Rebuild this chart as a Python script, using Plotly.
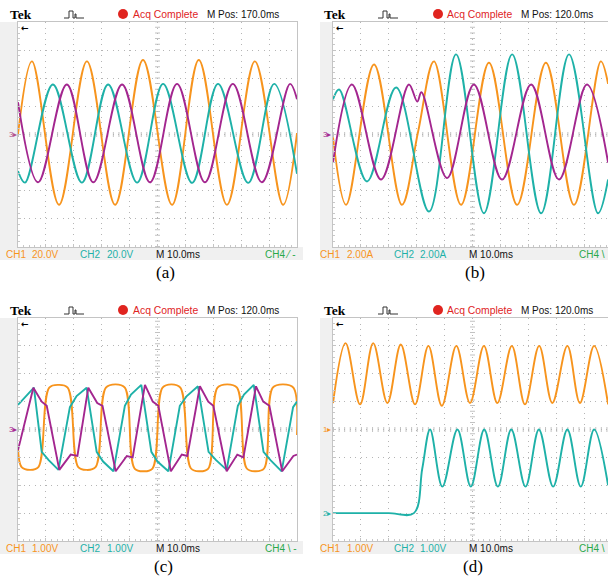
import plotly.graph_objects as go

# ---------------- data (time in divisions, 10 ms/div; amplitude in divisions) -------------
# Values read at the visible peaks / troughs / kinks of each trace.
# Panel (a)
A_T_OR = [0.0, 0.5, 1.47, 2.47, 3.48, 4.48, 5.52, 6.48, 7.49, 8.49, 9.5, 10.0]
A_V_OR = [0.0, 2.6, -2.5, 2.6, -2.5, 2.65, -2.5, 2.65, -2.5, 2.6, -2.5, 0.05]
A_T_CY = [0.0, 0.25, 1.25, 2.29, 3.23, 4.27, 5.2, 6.24, 7.17, 8.25, 9.18, 10.0]
A_V_CY = [-1.3, -1.71, 1.78, -1.71, 1.78, -1.71, 1.8, -1.72, 1.8, -1.72, 1.8, -1.4]
A_T_MG = [0.0, 0.72, 1.75, 2.7, 3.73, 4.73, 5.7, 6.7, 7.7, 8.74, 9.75, 10.0]
A_V_MG = [1.15, -1.7, 1.78, -1.7, 1.78, -1.7, 1.8, -1.7, 1.8, -1.7, 1.8, 1.25]

# Panel (b)
B_T_OR = [0.0, 0.47, 1.47, 2.47, 3.05, 3.62, 4.59, 5.59, 6.6, 7.63, 8.64, 9.6, 9.86]
B_V_OR = [-0.1, -2.5, 2.49, -2.5, 0.1, 2.6, -2.5, 2.55, -2.5, 2.55, -2.5, 2.6, 1.8]
B_T_CY = [0.0, 0.22, 1.22, 2.26, 3.44, 4.41, 5.41, 6.42, 7.46, 8.46, 9.5, 9.86]
B_V_CY = [1.25, 1.6, -1.67, 1.67, -2.74, 2.85, -2.8, 2.85, -2.8, 2.85, -2.8, -1.6]
B_T_MG = [0.0, 0.68, 1.72, 2.72, 3.02, 3.17, 4.09, 5.05, 6.06, 7.1, 8.1, 9.1, 9.86]
B_V_MG = [-1.0, 1.78, -1.6, 1.78, 1.17, 1.5, -1.55, 1.78, -1.6, 1.78, -1.6, 1.78, -1.0]

# Panel (c)
C_T_OR = [0.0, 0.13, 0.43, 0.73, 1.12, 1.45, 1.78, 2.16, 2.46, 2.78, 3.15, 3.5, 3.83, 4.18, 4.5, 4.82,
          5.18, 5.5, 5.82, 6.2, 6.5, 6.82, 7.15, 7.5, 7.85, 8.2, 8.5, 8.82, 9.13, 9.5, 9.87, 10.0]
C_V_OR = [-0.6, -1.35, -1.45, -1.35, 1.5, 1.6, 1.5, -1.35, -1.45, -1.35, 1.5, 1.62, 1.5, -1.4, -1.5, -1.4,
          1.5, 1.62, 1.5, -1.4, -1.5, -1.4, 1.5, 1.62, 1.5, -1.4, -1.5, -1.4, 1.5, 1.62, 1.5, -0.2]
C_T_CY = [0.0, 0.57, 0.85, 1.1, 1.45, 1.86, 2.1, 2.46, 2.82, 3.05, 3.42, 3.83, 4.05, 4.42, 4.78, 5.0,
          5.39, 5.8, 6.05, 6.45, 6.83, 7.1, 7.48, 7.88, 8.1, 8.45, 8.8, 9.05, 9.45, 9.86, 10.0]
C_V_CY = [0.88, 1.5, -0.8, -1.1, -1.45, 0.8, 1.2, 1.5, -0.8, -1.15, -1.5, 0.85, 1.25, 1.6, -0.8, -1.15,
          -1.5, 0.85, 1.2, 1.55, -0.8, -1.1, -1.45, 0.85, 1.25, 1.6, -0.8, -1.1, -1.5, 0.8, 1.0]
C_T_MG = [0.0, 0.55, 0.85, 1.03, 1.48, 1.89, 2.13, 2.52, 2.84, 3.03, 3.5, 3.9, 4.11, 4.55, 4.83, 5.03,
          5.48, 5.87, 6.07, 6.52, 6.82, 7.0, 7.48, 7.86, 8.08, 8.53, 8.79, 9.01, 9.47, 9.87, 10.0]
C_V_MG = [-0.74, 1.5, 1.0, 0.85, -1.45, -0.9, -0.95, 1.5, 0.95, 0.85, -1.5, -0.95, -1.0, 1.6, 1.0, 0.85,
          -1.5, -0.9, -0.95, 1.55, 1.0, 0.85, -1.5, -0.9, -1.0, 1.55, 1.0, 0.85, -1.5, -0.95, -0.9]

# Panel (d)
D_T_OR = [0.0, 0.45, 0.97, 1.44, 1.95, 2.43, 2.94, 3.42, 3.9, 4.42, 4.91, 5.41, 5.89, 6.41, 6.88,
          7.39, 7.86, 8.4, 8.85, 9.36, 9.86]
D_V_OR = [0.95, 3.1, 0.9, 3.1, 0.95, 3.05, 0.9, 3.0, 0.85, 3.0, 0.95, 3.0, 0.95, 3.0, 0.9,
          3.0, 0.95, 3.0, 0.95, 3.0, 0.9]
D_T_CY = [0.0, 1.0, 2.0, 2.9, 3.2, 3.48, 3.92, 4.46, 4.94, 5.42, 5.91, 6.39, 6.9, 7.38, 7.89,
          8.4, 8.88, 9.36, 9.86]
D_V_CY = [-3.0, -3.0, -3.0, -3.0, -1.4, 0.0, -2.05, 0.0, -2.05, 0.0, -2.05, 0.0, -2.05, 0.0, -2.05,
          0.0, -2.05, 0.0, -2.0]

PANEL_MPOS = ["M Pos: 170.0ms", "M Pos: 120.0ms", "M Pos: 120.0ms", "M Pos: 120.0ms"]
PANEL_CH1 = ["20.0V", "2.00A", "1.00V", "1.00V"]
PANEL_CH2 = ["20.0V", "2.00A", "1.00V", "1.00V"]
PANEL_CAP = ["(a)", "(b)", "(c)", "(d)"]

# ---------------- styling ----------------
W, H = 608, 577
ORANGE = "#f7941d"
TEAL = "#1eb1a8"
MAGENTA = "#a3268f"
GREEN = "#2aa84a"
RED = "#e0241f"
GRIDC = "#b5b5b5"
STRIP = "#f0f0f0"
SANS = "Liberation Sans, Arial, sans-serif"
SERIF = "Liberation Serif, Times New Roman, serif"


def px(x):
    return x / W


def py(y):
    return 1 - y / H


def note(x, y, text, font, xanchor="center"):
    return dict(x=px(x), y=py(y), xref="paper", yref="paper", text=text, showarrow=False,
                xanchor=xanchor, yanchor="middle", font=font)


DIV = 27.9
panels = [
    dict(x0=18, x1=297, y0=22, y1=247, xmax=10.0, right=True),
    dict(x0=333, x1=608, y0=22, y1=247, xmax=(608 - 333) / DIV, right=False),
    dict(x0=18, x1=297, y0=318, y1=541, xmax=10.0, right=True),
    dict(x0=333, x1=608, y0=318, y1=541, xmax=(608 - 333) / DIV, right=False),
]

series = [
    [(A_T_OR, A_V_OR, ORANGE, "spline"), (A_T_CY, A_V_CY, TEAL, "spline"), (A_T_MG, A_V_MG, MAGENTA, "spline")],
    [(B_T_OR, B_V_OR, ORANGE, "spline"), (B_T_CY, B_V_CY, TEAL, "spline"), (B_T_MG, B_V_MG, MAGENTA, "spline")],
    [(C_T_OR, C_V_OR, ORANGE, "spline"), (C_T_CY, C_V_CY, TEAL, "linear"), (C_T_MG, C_V_MG, MAGENTA, "linear")],
    [(D_T_OR, D_V_OR, ORANGE, "spline"), (D_T_CY, D_V_CY, TEAL, "spline")],
]

fig = go.Figure()
layout = dict(
    width=W, height=H, margin=dict(l=0, r=0, t=0, b=0, pad=0),
    paper_bgcolor="white", plot_bgcolor="white", showlegend=False,
)
shapes = []
annotations = []

for i, p in enumerate(panels):
    n = "" if i == 0 else str(i + 1)
    ax = dict(
        showgrid=True, gridcolor=GRIDC, griddash="1px,4.58px", gridwidth=1,
        dtick=1, tick0=0, showticklabels=False, zeroline=False,
        showline=True, linecolor="#c4c4c4", linewidth=1,
        ticks="inside", ticklen=3, tickcolor="#c4c4c4",
        minor=dict(dtick=0.2, ticks="inside", ticklen=2, tickcolor="#c8c8c8", showgrid=False),
        fixedrange=True,
    )
    layout["xaxis" + n] = dict(ax, domain=[px(p["x0"]), px(p["x1"])], range=[0, p["xmax"]],
                               anchor="y" + n, mirror=True)
    layout["yaxis" + n] = dict(ax, domain=[py(p["y1"]), py(p["y0"])], range=[-4, 4],
                               anchor="x" + n, mirror=p["right"])

    # grey strips around the graticule
    sx0 = p["x0"] - 13 if i % 2 else 0
    shapes.append(dict(type="rect", xref="paper", yref="paper", layer="below",
                       x0=px(sx0), x1=px(p["x0"]),
                       y0=py(p["y1"] + 13), y1=py(p["y0"]), fillcolor=STRIP, line_width=0))
    shapes.append(dict(type="rect", xref="paper", yref="paper", layer="below",
                       x0=px(sx0), x1=px(min(p["x1"] + 6, 608)),
                       y0=py(p["y1"] + 13), y1=py(p["y1"]), fillcolor=STRIP, line_width=0))

    # center cross with fine ticks
    xr = "x" + n
    yr = "y" + n
    shapes.append(dict(type="line", xref=xr, yref=yr, x0=0, x1=p["xmax"], y0=0, y1=0,
                       line=dict(color="#c2c2c2", width=5, dash="1px,4.58px"), layer="below"))
    shapes.append(dict(type="line", xref=xr, yref=yr, x0=5, x1=5, y0=-4, y1=4,
                       line=dict(color="#c2c2c2", width=5, dash="1px,4.62px"), layer="below"))

    for t, v, c, shp in series[i]:
        fig.add_trace(go.Scatter(x=t, y=v, mode="lines", xaxis="x" + n, yaxis="y" + n,
                                 line=dict(color=c, width=1.9, shape=shp, smoothing=1.0),
                                 hoverinfo="skip", cliponaxis=True))

    # header
    hy = p["y0"] - 8
    left = 0 if i % 2 == 0 else 314
    annotations.append(note(left + 8, hy, "<b>Tek</b>", dict(family=SERIF, size=13.5, color="black"), "left"))
    # pulse icon
    bx = left + 64
    yb = hy + 4
    shapes.append(dict(type="path", xref="paper", yref="paper",
                       path=(f"M{px(bx)},{py(yb)} L{px(bx+5)},{py(yb)} L{px(bx+5)},{py(yb-7)} "
                             f"L{px(bx+9)},{py(yb-7)} L{px(bx+9)},{py(yb)} L{px(bx+11)},{py(yb)} "
                             f"L{px(bx+11)},{py(yb-4)} L{px(bx+12)},{py(yb-4)} L{px(bx+12)},{py(yb)} "
                             f"L{px(bx+20)},{py(yb)}"),
                       line=dict(color="#333333", width=1)))
    # red dot
    cx = 123 if i % 2 == 0 else 438
    shapes.append(dict(type="circle", xref="paper", yref="paper",
                       x0=px(cx - 5), x1=px(cx + 5), y0=py(hy + 5), y1=py(hy - 5),
                       fillcolor=RED, line_width=0))
    ac = 165.5 if i % 2 == 0 else 479.5
    mp = 242.5 if i % 2 == 0 else 557
    annotations.append(note(ac, hy, "Acq Complete", dict(family=SANS, size=10.4, color=RED)))
    annotations.append(note(mp, hy, PANEL_MPOS[i], dict(family=SANS, size=10, color="#111111")))
    # trigger arrow
    annotations.append(note(p["x0"] + 1, p["y0"] + 6, "<b>←</b>",
                            dict(family="DejaVu Sans", size=9, color="black"), "left"))

    # bottom labels
    ly = p["y1"] + 7
    if i % 2 == 0:
        cols = [(16, "CH1", ORANGE), (45, PANEL_CH1[i], ORANGE), (90, "CH2", TEAL),
                (119.5, PANEL_CH2[i], TEAL), (178, "M 10.0ms", "#111111")]
        ch4x = 263
        cap = 165 if i == 0 else 163
    else:
        cols = [(330, "CH1", ORANGE), (359.5, PANEL_CH1[i], ORANGE), (404, "CH2", TEAL),
                (433.5, PANEL_CH2[i], TEAL), (491, "M 10.0ms", "#111111")]
        ch4x = 577
        cap = 475 if i == 1 else 473
    for xc, txt, col in cols:
        annotations.append(note(xc, ly, txt, dict(family=SANS, size=10, color=col)))
    ch4txt = "CH4 ⁄ -" if i == 0 else ("CH4 \\ -" if i == 2 else "CH4 \\")
    annotations.append(note(ch4x, ly, ch4txt, dict(family=SANS, size=10, color=GREEN), "left"))
    annotations.append(note(cap, p["y1"] + 25, PANEL_CAP[i], dict(family=SERIF, size=17, color="black")))

# channel markers
mids = [(p["y0"] + p["y1"]) / 2 for p in panels]
markers = [
    (7, mids[0], "3▸", "#b0508a"),
    (321, mids[1], "3▸", MAGENTA),
    (7, mids[2], "3▸", MAGENTA),
    (321, mids[3], "1▸", ORANGE),
    (321, mids[3] + 3 * DIV, "2▸", TEAL),
]
for mx, my, txt, col in markers:
    annotations.append(note(mx, my, txt, dict(family=SANS, size=8, color=col), "left"))

layout["shapes"] = shapes
layout["annotations"] = annotations
fig.update_layout(**layout)
fig.write_html(
    "out.html",
    config={"displayModeBar": False},
    post_script="document.body.style.margin='0';document.body.style.padding='0';"
                "document.documentElement.style.overflow='hidden';",
)
